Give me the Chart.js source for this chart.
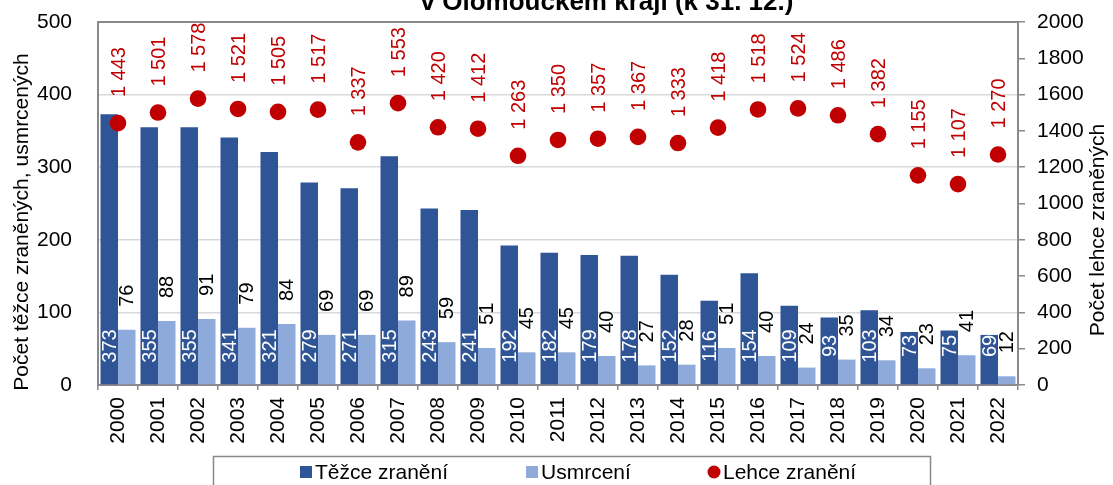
<!DOCTYPE html>
<html>
<head>
<meta charset="utf-8">
<script src="https://cdn.jsdelivr.net/npm/chart.js@4"></script>
<style>
  html, body { margin: 0; padding: 0; background: #fff; }
  #wrap { width: 1113px; height: 485px; position: relative; }
</style>
</head>
<body>
<div id="wrap"><canvas id="chart"></canvas></div>
<script>
const years = ['2000', '2001', '2002', '2003', '2004', '2005', '2006', '2007', '2008', '2009', '2010',
  '2011', '2012', '2013', '2014', '2015', '2016', '2017', '2018', '2019', '2020', '2021', '2022'];
const tezce = [373, 355, 355, 341, 321, 279, 271, 315, 243, 241, 192, 182, 179, 178, 152, 116, 154, 109, 93, 103, 73, 75, 69];
const usmrceni = [76, 88, 91, 79, 84, 69, 69, 89, 59, 51, 45, 45, 40, 27, 28, 51, 40, 24, 35, 34, 23, 41, 12];
const lehce = [1443, 1501, 1578, 1521, 1505, 1517, 1337, 1553, 1420, 1412, 1263, 1350, 1357, 1367, 1333, 1418, 1518, 1524, 1486, 1382, 1155, 1107, 1270];

const FONT = '"Liberation Sans", Arial, sans-serif';
const FS = 21;
const GRID = '#d9d9d9';
const AXIS = '#898989';
const DARK = '#2f5597';
const LIGHT = '#8eaadb';
const RED = '#c00000';

const fmt = v => v >= 1000 ? Math.floor(v / 1000) + ' ' + String(v % 1000).padStart(3, '0') : String(v);

// rotated value labels (no datalabels plugin available)
const labelsPlugin = {
  id: 'valueLabels',
  afterDatasetsDraw(chart) {
    const ctx = chart.ctx;
    const bottom = chart.chartArea.bottom;
    ctx.save();
    ctx.font = '20px ' + FONT;
    ctx.textBaseline = 'middle';
    chart.data.datasets.forEach((ds, i) => {
      const meta = chart.getDatasetMeta(i);
      meta.data.forEach((el, j) => {
        const v = ds.data[j];
        ctx.save();
        if (i === 0) {
          ctx.translate(el.x, bottom - 39);
          ctx.textAlign = 'center';
          ctx.fillStyle = '#fff';
        } else if (i === 1) {
          ctx.translate(el.x, el.y - 23);
          ctx.textAlign = 'left';
          ctx.fillStyle = '#000';
        } else {
          ctx.translate(el.x, el.y - 26);
          ctx.textAlign = 'left';
          ctx.fillStyle = RED;
        }
        ctx.rotate(-Math.PI / 2);
        ctx.fillText(fmt(v), 0, 1);
        ctx.restore();
      });
    });
    ctx.restore();
  }
};

// title remnant, axis titles and boxed legend
const decoPlugin = {
  id: 'deco',
  afterDraw(chart) {
    const ctx = chart.ctx;
    ctx.save();
    ctx.fillStyle = '#000';
    ctx.font = 'bold 26px ' + FONT;
    ctx.textAlign = 'center';
    ctx.textBaseline = 'alphabetic';
    ctx.fillText('v Olomouckém kraji (k 31. 12.)', 607, 10);

    ctx.font = FS + 'px ' + FONT;
    ctx.textBaseline = 'middle';
    ctx.save();
    ctx.translate(22, 222);
    ctx.rotate(-Math.PI / 2);
    ctx.fillText('Počet těžce zraněných, usmrcených', 0, 0);
    ctx.restore();
    ctx.save();
    ctx.translate(1098, 230);
    ctx.rotate(-Math.PI / 2);
    ctx.fillText('Počet lehce zraněných', 0, 0);
    ctx.restore();

    // legend
    ctx.strokeStyle = AXIS;
    ctx.lineWidth = 1.5;
    ctx.strokeRect(213.5, 456.5, 717, 40);
    const items = [
      { x: 300, text: 'Těžce zranění', color: DARK, shape: 'rect' },
      { x: 526, text: 'Usmrcení', color: LIGHT, shape: 'rect' },
      { x: 708, text: 'Lehce zranění', color: RED, shape: 'circle' }
    ];
    const ly = 472;
    ctx.textAlign = 'left';
    items.forEach(it => {
      ctx.fillStyle = it.color;
      if (it.shape === 'rect') {
        ctx.fillRect(it.x, ly - 6, 12, 12);
      } else {
        ctx.beginPath();
        ctx.arc(it.x + 6, ly, 6.5, 0, Math.PI * 2);
        ctx.fill();
      }
      ctx.fillStyle = '#000';
      ctx.fillText(it.text, it.x + 15, ly + 1);
    });
    ctx.restore();
  }
};

const fitVertical = w => s => {
  s.width = w;
  s.paddingTop = 0;
  s.paddingBottom = 0;
};

new Chart(document.getElementById('chart'), {
  data: {
    labels: years,
    datasets: [
      {
        type: 'bar',
        label: 'Těžce zranění',
        data: tezce,
        backgroundColor: DARK,
        borderWidth: 0,
        yAxisID: 'y',
        order: 2,
        categoryPercentage: 0.875,
        barPercentage: 1
      },
      {
        type: 'bar',
        label: 'Usmrcení',
        data: usmrceni,
        backgroundColor: LIGHT,
        borderWidth: 0,
        yAxisID: 'y',
        order: 2,
        categoryPercentage: 0.875,
        barPercentage: 1
      },
      {
        type: 'line',
        label: 'Lehce zranění',
        data: lehce,
        showLine: false,
        pointRadius: 8.3,
        pointBackgroundColor: RED,
        pointBorderWidth: 0,
        borderColor: RED,
        yAxisID: 'y1',
        order: 1,
        clip: false
      }
    ]
  },
  options: {
    responsive: true,
    maintainAspectRatio: false,
    animation: false,
    layout: { autoPadding: false, padding: { top: 22, left: 0, right: 0, bottom: 0 } },
    plugins: {
      legend: { display: false },
      tooltip: { enabled: false },
      title: { display: false }
    },
    scales: {
      x: {
        offset: true,
        afterFit: s => {
          s.height = 100;
          s.paddingLeft = 0;
          s.paddingRight = 0;
        },
        grid: {
          drawOnChartArea: false,
          drawTicks: true,
          tickLength: 5,
          color: AXIS,
          lineWidth: 1.5
        },
        border: { display: true, color: AXIS, width: 2 },
        ticks: {
          minRotation: 90,
          maxRotation: 90,
          autoSkip: false,
          padding: 7,
          color: '#000',
          font: { family: FONT, size: FS }
        }
      },
      y: {
        position: 'left',
        min: 0,
        max: 500,
        afterFit: fitVertical(98),
        ticks: {
          stepSize: 100,
          padding: 26,
          color: '#000',
          font: { family: FONT, size: FS }
        },
        grid: {
          drawTicks: false,
          color: c => c.tick && c.tick.value === 500 ? AXIS : GRID,
          lineWidth: c => c.tick && c.tick.value === 500 ? 2 : 1.5
        },
        border: { display: true, color: AXIS, width: 2 }
      },
      y1: {
        position: 'right',
        min: 0,
        max: 2000,
        afterFit: fitVertical(95),
        ticks: {
          stepSize: 200,
          padding: 12,
          color: '#000',
          font: { family: FONT, size: FS },
          callback: v => String(v)
        },
        grid: {
          drawOnChartArea: false,
          drawTicks: true,
          tickLength: 7,
          color: AXIS,
          lineWidth: 1.5
        },
        border: { display: true, color: AXIS, width: 2 }
      }
    }
  },
  plugins: [labelsPlugin, decoPlugin]
});
</script>
</body>
</html>
